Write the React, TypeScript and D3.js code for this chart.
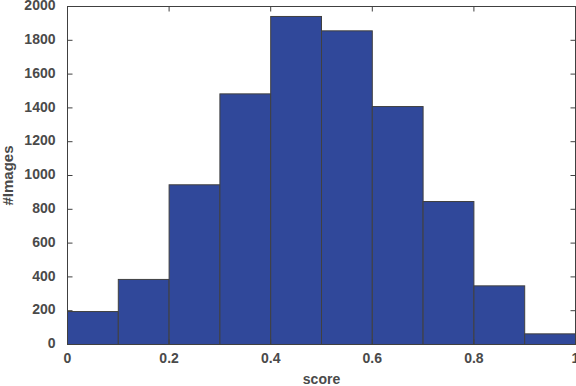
import React from "react";
import * as d3 from "d3";

const binEdges = [0, 0.1, 0.2, 0.3, 0.4, 0.5, 0.6, 0.7, 0.8, 0.9, 1.0];
const counts = [195, 385, 945, 1483, 1941, 1856, 1408, 846, 347, 63];
const xTicks = [0, 0.2, 0.4, 0.6, 0.8, 1];
const yTicks = [0, 200, 400, 600, 800, 1000, 1200, 1400, 1600, 1800, 2000];
const xLabel = "score";
const yLabel = "#Images";

export default function App() {
  const W = 576, H = 386;
  const left = 67.5, right = 575.5, top = 6.5, bottom = 344.5;
  const x = d3.scaleLinear().domain([0, 1]).range([left, right]);
  const y = d3.scaleLinear().domain([0, 2000]).range([bottom, top]);
  const axisColor = "#404040";
  const textColor = "#4a4a4a";
  const font = "'Liberation Sans', Arial, Helvetica, sans-serif";
  const tl = 5;
  return (
    <div style={{ position: "fixed", left: 0, top: 0 }}>
      <svg width={W} height={H} style={{ display: "block" }}>
        <rect x={0} y={0} width={W} height={H} fill="#fff" />
        {counts.map((c, i) => (
          <rect
            key={i}
            x={x(binEdges[i])}
            y={y(c)}
            width={x(binEdges[i + 1]) - x(binEdges[i])}
            height={y(0) - y(c)}
            fill="#30489A"
            stroke="#404040"
            strokeWidth={1}
          />
        ))}
        <rect x={left} y={top} width={right - left} height={bottom - top} fill="none" stroke={axisColor} strokeWidth={1} />
        {xTicks.map((t) => (
          <g key={"x" + t}>
            <line x1={x(t)} x2={x(t)} y1={bottom} y2={bottom - tl} stroke={axisColor} />
            <line x1={x(t)} x2={x(t)} y1={top} y2={top + tl} stroke={axisColor} />
            <text x={x(t)} y={bottom + 15} textAnchor="middle" dominantBaseline="middle" fontFamily={font} fontWeight="bold" fontSize={14} fill={textColor}>
              {String(t)}
            </text>
          </g>
        ))}
        {yTicks.map((t) => (
          <g key={"y" + t}>
            <line x1={left} x2={left + tl} y1={y(t)} y2={y(t)} stroke={axisColor} />
            <line x1={right} x2={right - tl} y1={y(t)} y2={y(t)} stroke={axisColor} />
            <text x={left - 12} y={y(t)} textAnchor="end" dominantBaseline="middle" fontFamily={font} fontWeight="bold" fontSize={14} fill={textColor}>
              {String(t)}
            </text>
          </g>
        ))}
        <text x={(left + right) / 2} y={383.5} textAnchor="middle" fontFamily={font} fontWeight="bold" fontSize={14} fill={textColor}>
          {xLabel}
        </text>
        <text
          transform={`translate(13, ${(top + bottom) / 2}) rotate(-90)`}
          textAnchor="middle"
          fontFamily={font}
          fontWeight="bold"
          fontSize={15}
          fill={textColor}
        >
          {yLabel}
        </text>
      </svg>
    </div>
  );
}
